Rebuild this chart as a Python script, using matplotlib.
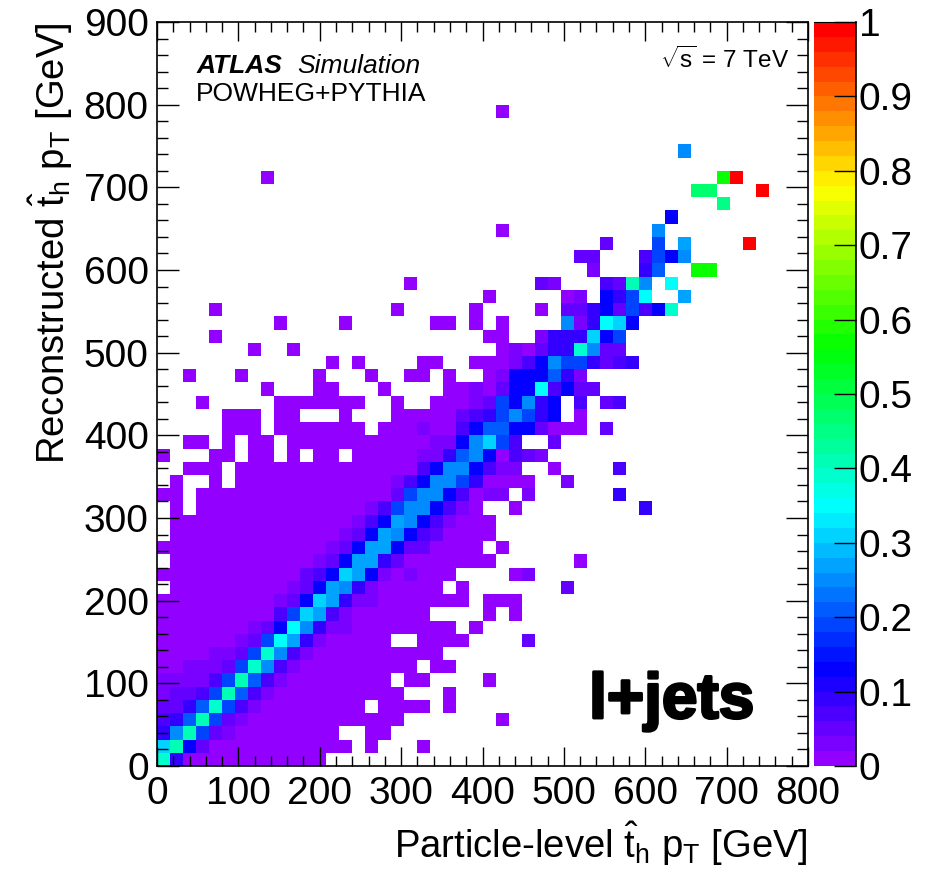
import colorsys
import numpy as np
from matplotlib import pyplot as plt
from matplotlib.colors import ListedColormap
from matplotlib.ticker import MultipleLocator
import matplotlib.patheffects as pe

plt.rcParams.update({'font.family': ['Liberation Sans', 'DejaVu Sans'], 'mathtext.fontset': 'custom',
                     'mathtext.rm': 'Liberation Sans', 'mathtext.it': 'Liberation Sans:italic',
                     'mathtext.bf': 'Liberation Sans:bold'})

bin_width = 16  # GeV, both axes
n_cols = 50
n_rows = 57

x_ticks = [0, 100, 200, 300, 400, 500, 600, 700, 800]
y_ticks = [0, 100, 200, 300, 400, 500, 600, 700, 800, 900]
z_ticks = [0, 0.1, 0.2, 0.3, 0.4, 0.5, 0.6, 0.7, 0.8, 0.9, 1]
z_labels = ['0', '0.1', '0.2', '0.3', '0.4', '0.5', '0.6', '0.7', '0.8', '0.9', '1']

# migration fraction for each letter used in peak_cells
code_values = {'a': 0.01, 'b': 0.03, 'c': 0.05, 'd': 0.07, 'e': 0.09, 'f': 0.13, 'g': 0.19,
               'h': 0.21, 'i': 0.25, 'j': 0.27, 'k': 0.31, 'l': 0.35, 'm': 0.39, 'n': 0.41,
               'q': 0.45, 'o': 0.47, 'p': 0.57, 'r': 0.99}

# row: runs of columns (first, last) in the lowest bin
low_runs = {
    0: [(2, 12)],
    1: [(4, 14), (16, 16), (20, 20)],
    2: [(6, 13), (16, 17)],
    3: [(7, 18), (26, 26)],
    4: [(8, 15), (17, 20), (22, 22)],
    5: [(9, 18), (22, 22)],
    6: [(10, 17), (19, 20), (25, 25)],
    7: [(0, 1), (11, 19), (21, 22)],
    8: [(0, 3), (12, 21)],
    9: [(0, 5), (13, 17), (20, 23)],
    10: [(0, 6), (15, 22), (24, 24)],
    11: [(0, 8), (15, 20), (25, 25), (27, 27)],
    12: [(0, 8), (17, 23), (25, 27)],
    13: [(1, 9), (17, 21), (23, 23)],
    14: [(0, 10), (18, 18), (20, 22), (27, 27)],
    15: [(1, 11), (19, 25), (32, 32)],
    16: [(0, 12), (21, 24), (26, 26)],
    17: [(1, 13), (22, 25)],
    18: [(1, 14), (23, 25)],
    19: [(1, 1), (3, 15), (24, 24), (27, 27)],
    20: [(0, 1), (3, 17), (24, 24)],
    21: [(1, 1), (4, 4), (6, 17), (25, 28)],
    22: [(2, 4), (6, 19), (30, 30)],
    23: [(0, 0), (4, 5), (7, 8), (10, 10), (12, 13), (15, 19)],
    24: [(2, 3), (5, 5), (7, 8), (10, 20)],
    25: [(5, 7), (9, 15), (17, 19), (21, 22), (30, 32)],
    26: [(5, 7), (9, 10), (14, 14), (18, 22), (32, 32)],
    27: [(3, 3), (9, 15), (18, 18), (21, 23)],
    28: [(8, 8), (12, 13), (17, 17), (22, 23), (25, 25)],
    29: [(2, 2), (6, 6), (12, 12), (16, 16), (19, 20), (22, 22), (25, 25)],
    30: [(13, 13), (15, 15), (20, 21), (24, 26)],
    31: [(7, 7), (10, 10), (26, 26)],
    32: [(4, 4), (25, 26)],
    33: [(9, 9), (14, 14), (21, 22), (24, 24), (26, 26)],
    34: [(4, 4), (18, 18), (24, 24), (29, 29)],
    35: [(25, 25), (31, 31)],
    36: [(19, 19)],
    40: [(26, 26)],
    44: [(8, 8)],
    49: [(26, 26)],
}

# row: (first column, letters for consecutive cells)
peak_cells = {
    0: [(0, 'me')],
    1: [(0, 'knfc')],
    2: [(0, 'eingcb')],
    3: [(0, 'dehngcb')],
    4: [(0, 'ccehmgdb')],
    5: [(0, 'bccdgnhdb')],
    6: [(0, 'bbbbdgnhdb')],
    7: [(2, 'bbbcgmidb')],
    8: [(4, 'bbcgmidb')],
    9: [(6, 'bcgljeb'), (28, 'c')],
    10: [(7, 'bcfliebb')],
    11: [(9, 'dgkjdb')],
    12: [(9, 'bcfkjebb')],
    13: [(10, 'bcfjieb'), (31, 'c')],
    14: [(11, 'cdfkjfb'), (19, 'b'), (28, 'b')],
    15: [(12, 'bcfjjec')],
    16: [(13, 'bcfjjfcc')],
    17: [(14, 'bcfjifdc')],
    18: [(15, 'bdfjifdb')],
    19: [(16, 'bdgiifdb'), (37, 'e')],
    20: [(18, 'cgiifd'), (25, 'bb'), (28, 'b'), (35, 'e')],
    21: [(18, 'bdfiige'), (31, 'b')],
    22: [(20, 'dfiifd'), (26, 'bb'), (35, 'd')],
    23: [(20, 'bbehifadcb')],
    24: [(21, 'bbfikgd'), (30, 'c')],
    25: [(20, 'b'), (23, 'dfhhffc'), (34, 'c')],
    26: [(23, 'cdegigef')],
    27: [(24, 'bcgfief'), (32, 'd'), (34, 'cd')],
    28: [(24, 'b'), (26, 'cffldfcc')],
    29: [(26, 'bfffheb')],
    30: [(27, 'bdfiggecde')],
    31: [(27, 'baceemicc')],
    32: [(29, 'beeekfg')],
    33: [(31, 'ibelkf')],
    34: [(31, 'ccefcgdfm')],
    35: [(32, 'b'), (34, 'fegl'), (40, 'j')],
    36: [(29, 'cb'), (34, 'dcni'), (39, 'l')],
    37: [(33, 'b'), (37, 'eh'), (41, 'pp')],
    38: [(32, 'cc'), (37, 'dgfi')],
    39: [(34, 'c'), (38, 'g'), (40, 'j'), (45, 'r')],
    40: [(38, 'i')],
    41: [(39, 'f')],
    42: [(43, 'q')],
    43: [(41, 'oo'), (46, 'r')],
    44: [(43, 'pr')],
    46: [(40, 'i')],
}

matrix = np.full((n_rows, n_cols), np.nan)
for row, runs in low_runs.items():
    for first, last in runs:
        matrix[row, first:last + 1] = code_values['a']
for row, cells in peak_cells.items():
    for first, codes in cells:
        for k, c in enumerate(codes):
            matrix[row, first + k] = code_values[c]

# ROOT rainbow palette
palette = [colorsys.hls_to_rgb((280 - (i + 1) * 5.6) / 360, 0.5, 1) for i in range(50)]
cmap = ListedColormap(palette)

W, H = 938, 876
fig = plt.figure(figsize=(W / 100, H / 100), dpi=100)
ax = fig.add_axes([157 / W, 1 - 766 / H, 651 / W, 744 / H])
cax = fig.add_axes([814 / W, 1 - 766 / H, 42 / W, 744 / H])

x_edges = np.arange(n_cols + 1) * bin_width
y_edges = np.arange(n_rows + 1) * bin_width
mesh = ax.pcolormesh(x_edges, y_edges, np.ma.masked_invalid(matrix), cmap=cmap, vmin=0, vmax=1,
                     antialiased=False, linewidth=0)
ax.set_xlim(0, 800)
ax.set_ylim(0, 900)
ax.set_xticks(x_ticks)
ax.set_yticks(y_ticks)
ax.xaxis.set_minor_locator(MultipleLocator(20))
ax.yaxis.set_minor_locator(MultipleLocator(20))
ax.tick_params(axis='x', which='major', direction='in', top=True, length=14, width=1, labelsize=28, pad=7)
ax.tick_params(axis='x', which='minor', direction='in', top=True, length=7, width=1)
ax.tick_params(axis='y', which='major', direction='in', right=True, length=16, width=1, labelsize=28, pad=6)
ax.tick_params(axis='y', which='minor', direction='in', right=True, length=8, width=1)
for s in ax.spines.values():
    s.set_linewidth(1.2)

ax.set_xlabel(r'Particle-level $\hat{\mathrm{t}}_{\mathrm{h}}$ p$_{\mathrm{T}}$ [GeV]', fontsize=27.5, loc='right', labelpad=6)
ax.set_ylabel(r'Reconstructed $\hat{\mathrm{t}}_{\mathrm{h}}$ p$_{\mathrm{T}}$ [GeV]', fontsize=27.5, loc='top', labelpad=6)

cb = fig.colorbar(mesh, cax=cax)
cb.set_ticks(z_ticks)
cb.set_ticklabels(z_labels)
cb.outline.set_visible(False)
cax.plot([1, 1], [0, 1], color='k', lw=1.2, transform=cax.transAxes, clip_on=False)
cax.plot([0, 1], [1, 1], color='k', lw=0.8, transform=cax.transAxes, clip_on=False)
cax.tick_params(axis='y', which='major', direction='in', length=16, width=1, labelsize=28, pad=2)

ax.text(48, 838, 'ATLAS', fontsize=19, fontweight='bold', fontstyle='italic')
ax.text(172, 838, 'Simulation', fontsize=19, fontstyle='italic')
ax.text(48, 804, 'POWHEG+PYTHIA', fontsize=19)
ax.text(777, 845, r'$\sqrt{\mathrm{s}}$ = 7 TeV', fontsize=17.5, ha='right')
ax.text(531, 58, 'l+jets', fontsize=46, fontweight='bold',
        path_effects=[pe.withStroke(linewidth=2, foreground='k')])

fig.savefig('out.png', dpi=100)
